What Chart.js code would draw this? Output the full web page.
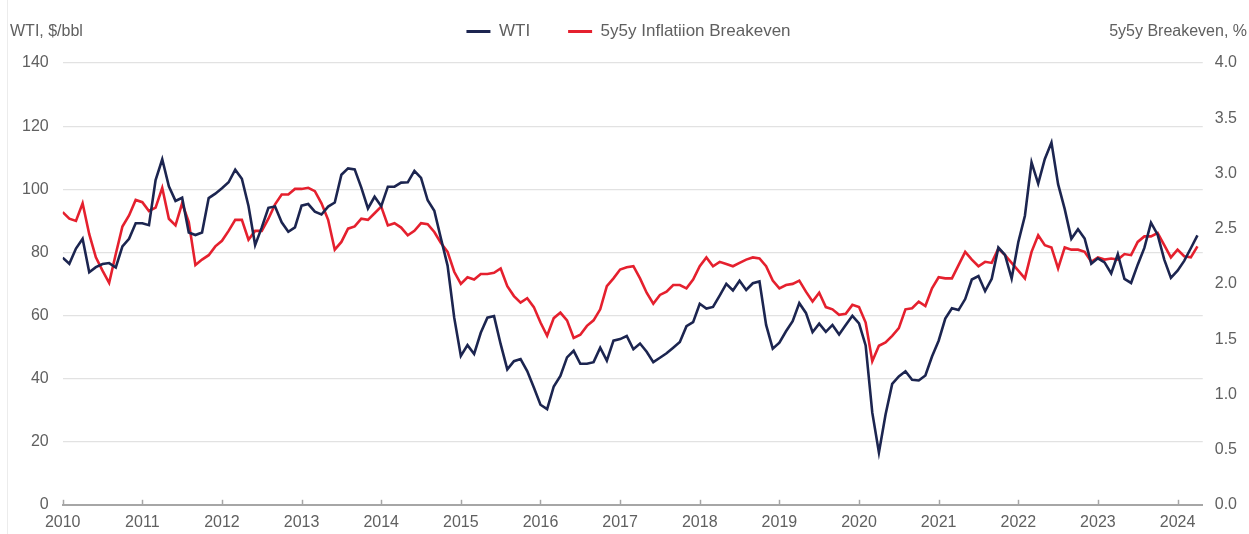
<!DOCTYPE html>
<html lang="en">
<head>
    <meta charset="UTF-8">
    <title>WTI vs 5y5y Breakeven</title>
    <script src="https://cdn.jsdelivr.net/npm/chart.js"></script>
    <style>
        body { margin: 0; background: #fff; font-family: "Liberation Sans", Arial, sans-serif; }
        #wrap { position: relative; width: 1249px; height: 534px; overflow: hidden; }
        #edge { position: absolute; left: 7px; top: 0; bottom: 0; border-left: 1px solid #ececec; }
        #caixa { position: absolute; left: 0; top: -15px; width: 1249px; height: 555px; }
        .axis-title { position: absolute; top: 22px; font-size: 16px; color: #606060; z-index: 2; }
        #leftTitle { left: 10px; }
        #rightTitle { right: 2px; }
    </style>
</head>
<body>
    <div id="wrap">
        <div id="edge"></div>
        <div id="caixa"><canvas id="grafico"></canvas></div>
        <div class="axis-title" id="leftTitle">WTI, $/bbl</div>
        <div class="axis-title" id="rightTitle">5y5y Breakeven, %</div>
    </div>

    <script>
        // monthly, Jan 2010 .. Apr 2024
        const anoInicio = 2010;

        const wti = [
            78.3, 76.4, 81.2, 84.3, 73.7, 75.3, 76.3, 76.6, 75.2, 81.9, 84.3, 89.2,
            89.2, 88.6, 102.9, 109.5, 100.9, 96.3, 97.3, 86.3, 85.5, 86.3, 97.2, 98.6,
            100.3, 102.2, 106.2, 103.3, 94.7, 82.3, 87.9, 94.1, 94.5, 89.5, 86.5, 87.9,
            94.8, 95.3, 92.9, 92.0, 94.5, 95.8, 104.6, 106.6, 106.3, 100.5, 93.9, 97.6,
            94.6, 100.8, 100.8, 102.1, 102.2, 105.8, 103.6, 96.5, 93.2, 84.4, 75.8, 59.3,
            47.2, 50.6, 47.8, 54.5, 59.3, 59.8, 50.9, 42.9, 45.5, 46.2, 42.4, 37.2,
            31.7, 30.3, 37.5, 40.8, 46.7, 48.8, 44.7, 44.7, 45.2, 49.8, 45.7, 52.0,
            52.5, 53.5, 49.3, 51.1, 48.5, 45.2, 46.6, 48.0, 49.8, 51.6, 56.6, 57.9,
            63.7, 62.2, 62.7, 66.3, 70.0, 67.9, 71.0, 68.1, 70.2, 70.8, 57.0, 49.5,
            51.4, 55.0, 58.2, 63.9, 60.8, 54.7, 57.4, 54.8, 57.0, 54.0, 57.0, 59.9,
            57.5, 50.5, 29.2, 16.6, 28.6, 38.3, 40.7, 42.3, 39.6, 39.4, 41.0, 47.0,
            52.0, 59.0, 62.3, 61.7, 65.2, 71.4, 72.5, 67.7, 71.6, 81.5, 79.2, 71.7,
            83.2, 91.6, 108.5, 101.8, 109.6, 114.8, 101.6, 93.7, 84.3, 87.3, 84.4, 76.4,
            78.1, 76.8, 73.3, 79.4, 71.6, 70.3, 76.1, 81.4, 89.4, 85.6, 77.7, 71.9,
            74.2, 77.3, 81.3, 85.4
        ];

        const breakeven = [
            2.65, 2.59, 2.57, 2.73, 2.45, 2.24, 2.12, 2.01, 2.27, 2.52, 2.62, 2.76,
            2.74, 2.66, 2.69, 2.87, 2.59, 2.53, 2.73, 2.56, 2.17, 2.22, 2.26, 2.34,
            2.39, 2.48, 2.58, 2.58, 2.40, 2.48, 2.48, 2.59, 2.72, 2.81, 2.81, 2.86,
            2.86, 2.87, 2.84, 2.73, 2.58, 2.31, 2.38, 2.50, 2.52, 2.59, 2.58, 2.64,
            2.70, 2.53, 2.55, 2.51, 2.44, 2.48, 2.55, 2.54, 2.47, 2.37, 2.29, 2.11,
            2.00, 2.06, 2.04, 2.09, 2.09, 2.10, 2.14, 1.98, 1.89, 1.83, 1.87, 1.79,
            1.65, 1.53, 1.69, 1.74, 1.67, 1.51, 1.54, 1.62, 1.67, 1.77, 1.98, 2.05,
            2.13, 2.15, 2.16, 2.05, 1.92, 1.82, 1.90, 1.93, 1.99, 1.99, 1.96, 2.04,
            2.16, 2.24, 2.16, 2.20, 2.18, 2.16, 2.19, 2.22, 2.24, 2.23, 2.16, 2.03,
            1.96, 1.99, 2.00, 2.03, 1.93, 1.84, 1.92, 1.79, 1.77, 1.72, 1.73, 1.81,
            1.79, 1.65, 1.30, 1.44, 1.47, 1.53, 1.60, 1.77, 1.78, 1.84, 1.80, 1.96,
            2.06, 2.05, 2.05, 2.17, 2.29, 2.22, 2.16, 2.20, 2.19, 2.32, 2.26, 2.19,
            2.12, 2.05, 2.29, 2.44, 2.35, 2.33, 2.14, 2.33, 2.31, 2.31, 2.29, 2.20,
            2.24, 2.22, 2.23, 2.22, 2.27, 2.26, 2.38, 2.43, 2.43, 2.46, 2.35, 2.24,
            2.31, 2.25, 2.24, 2.34
        ];

        const corTexto = '#606060';
        const fonte = '"Liberation Sans", Arial, sans-serif';

        // marquinhas do eixo x para cima, como no original
        const ticksParaCima = {
            id: 'ticksParaCima',
            afterDraw(chart) {
                const x = chart.scales.x;
                const ctx = chart.ctx;
                ctx.save();
                ctx.strokeStyle = '#a6a6a6';
                ctx.lineWidth = 1.5;
                x.ticks.forEach(t => {
                    if (t.value % 12 !== 0) return;
                    const px = Math.round(x.getPixelForValue(t.value)) + 0.5;
                    ctx.beginPath();
                    ctx.moveTo(px, x.top);
                    ctx.lineTo(px, x.top - 5);
                    ctx.stroke();
                });
                ctx.restore();
            }
        };

        // mais espaço entre a legenda e o gráfico
        const espacoLegenda = {
            id: 'espacoLegenda',
            beforeInit(chart) {
                const fitOriginal = chart.legend.fit;
                chart.legend.fit = function () {
                    fitOriginal.call(this);
                    this.height += 13;
                };
            }
        };

        const config = {
            type: 'line',
            data: {
                datasets: [{
                    label: 'WTI',
                    data: wti.map((v, i) => ({ x: i, y: v })),
                    borderColor: '#1c2550',
                    backgroundColor: '#1c2550',
                    borderWidth: 2.6,
                    pointRadius: 0,
                    tension: 0,
                    yAxisID: 'y'
                }, {
                    label: '5y5y Inflatiion Breakeven',
                    data: breakeven.map((v, i) => ({ x: i, y: v })),
                    borderColor: '#e5202e',
                    backgroundColor: '#e5202e',
                    borderWidth: 2.6,
                    pointRadius: 0,
                    tension: 0,
                    yAxisID: 'y1'
                }]
            },
            options: {
                responsive: true,
                maintainAspectRatio: false,
                animation: false,
                layout: { padding: { left: 8, right: 0, top: 0, bottom: 0 } },
                plugins: {
                    tooltip: { enabled: false },
                    legend: {
                        position: 'top',
                        labels: {
                            color: corTexto,
                            font: { family: fonte, size: 17 },
                            boxWidth: 24,
                            boxHeight: 3,
                            padding: 38,
                            generateLabels(chart) {
                                return Chart.defaults.plugins.legend.labels.generateLabels(chart)
                                    .map(l => Object.assign(l, { lineWidth: 0 }));
                            }
                        }
                    }
                },
                scales: {
                    x: {
                        type: 'linear',
                        min: 0,
                        max: 171.8,
                        grid: { display: false, drawTicks: false },
                        border: { display: true, color: '#a6a6a6', width: 2 },
                        ticks: {
                            stepSize: 12,
                            autoSkip: false,
                            includeBounds: false,
                            maxRotation: 0,
                            padding: 8,
                            color: corTexto,
                            font: { family: fonte, size: 16 },
                            callback: v => (v % 12 === 0 ? String(anoInicio + v / 12) : null)
                        }
                    },
                    y: {
                        position: 'left',
                        min: 0,
                        max: 140,
                        grid: { color: '#e2e2e2', lineWidth: 1.2, drawTicks: false },
                        border: { display: false },
                        ticks: {
                            stepSize: 20,
                            padding: 14,
                            color: corTexto,
                            font: { family: fonte, size: 16 }
                        }
                    },
                    y1: {
                        position: 'right',
                        min: 0,
                        max: 4,
                        grid: { drawOnChartArea: false, drawTicks: false },
                        border: { display: false },
                        ticks: {
                            stepSize: 0.5,
                            padding: 12,
                            color: corTexto,
                            font: { family: fonte, size: 16 },
                            callback: v => v.toFixed(1)
                        }
                    }
                }
            },
            plugins: [ticksParaCima, espacoLegenda]
        };

        new Chart(document.getElementById('grafico'), config);
    </script>
</body>
</html>
